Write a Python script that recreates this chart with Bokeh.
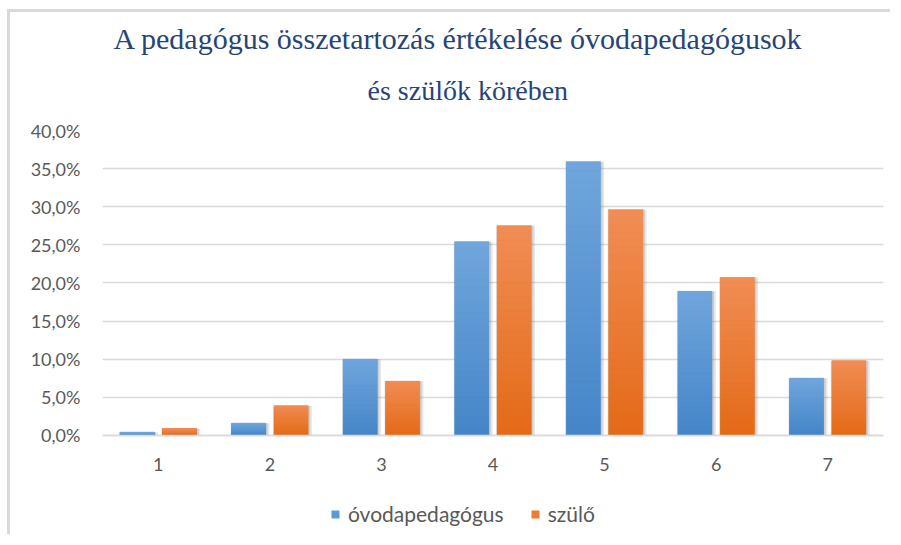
from bokeh.plotting import figure
from bokeh.models import (FactorRange, ColumnDataSource, Legend, LegendItem, Title,
                          FixedTicker, CustomJSTickFormatter, Range1d)
from bokeh.transform import dodge
from bokeh.embed import file_html
from bokeh.resources import INLINE

categories = ["1", "2", "3", "4", "5", "6", "7"]
ovodapedagogus = [0.4, 1.6, 10.0, 25.4, 35.9, 18.9, 7.5]
szulo = [0.9, 3.9, 7.1, 27.5, 29.6, 20.7, 9.8]
series_names = ["óvodapedagógus", "szülő"]
y_ticks = [0, 5, 10, 15, 20, 25, 30, 35, 40]
title_lines = ["A pedagógus összetartozás értékelése  óvodapedagógusok", "és szülők körében"]

BLUE = "#5B9BD5"
ORANGE = "#ED7D31"
BLUE_GRAD = ("#70A6DC", "#4585C8")     # top, bottom
ORANGE_GRAD = ("#F18D55", "#E36A17")
GRID = "#D9D9D9"
TXT = "#595959"
SANS = "Lato"
TITLE_COLOR = "#264478"

OFF = 0.19
BW = 0.305

p = figure(width=883, height=525,
           x_range=FactorRange(*categories, range_padding=0),
           y_range=Range1d(-13.4, 40),
           output_backend="svg", toolbar_location=None,
           min_border_left=92, min_border_right=10,
           min_border_top=118, min_border_bottom=0)
p.styles = {"margin-left": "7px", "margin-top": "9px",
            "border-top": "3px solid #D9D9D9", "border-left": "3px solid #D9D9D9"}
p.outline_line_color = None
p.background_fill_color = "white"
p.border_fill_color = "white"

src = ColumnDataSource(dict(cat=categories, ovoda=ovodapedagogus, szulo=szulo))


def hex2rgb(h):
    h = h.lstrip("#")
    return tuple(int(h[i:i + 2], 16) for i in (0, 2, 4))


def mix(c1, c2, t):
    a, b = hex2rgb(c1), hex2rgb(c2)
    return "#%02x%02x%02x" % tuple(round(a[i] + (b[i] - a[i]) * t) for i in range(3))


def gradient_source(vals, grad, n=30):
    cats, bots, tops, cols = [], [], [], []
    for c, v in zip(categories, vals):
        for k in range(n):
            cats.append(c)
            bots.append(v * k / n)
            tops.append(v * (k + 1) / n)
            cols.append(mix(grad[1], grad[0], (k + 0.5) / n))
    return ColumnDataSource(dict(cat=cats, bottom=bots, top=tops, color=cols))


# soft shadows
for off, col in ((-OFF, "ovoda"), (OFF, "szulo")):
    p.vbar(x=dodge("cat", off + 0.012, range=p.x_range), top=col, width=BW + 0.045,
           source=src, fill_color="#7f7f7f", fill_alpha=0.18, line_color=None)
    p.vbar(x=dodge("cat", off + 0.008, range=p.x_range), top=col, width=BW + 0.022,
           source=src, fill_color="#7f7f7f", fill_alpha=0.25, line_color=None)

r1 = p.vbar(x=dodge("cat", -OFF, range=p.x_range), top="ovoda", width=BW, source=src,
            fill_color=BLUE, line_color=None)
r2 = p.vbar(x=dodge("cat", OFF, range=p.x_range), top="szulo", width=BW, source=src,
            fill_color=ORANGE, line_color=None)

gs1 = gradient_source(ovodapedagogus, BLUE_GRAD)
gs2 = gradient_source(szulo, ORANGE_GRAD)
p.vbar(x=dodge("cat", -OFF, range=p.x_range), bottom="bottom", top="top", width=BW,
       source=gs1, fill_color="color", line_color="color", line_width=0.6)
p.vbar(x=dodge("cat", OFF, range=p.x_range), bottom="bottom", top="top", width=BW,
       source=gs2, fill_color="color", line_color="color", line_width=0.6)

p.xgrid.grid_line_color = None
p.ygrid.grid_line_color = GRID
p.ygrid.grid_line_width = 1.5
p.ygrid.ticker = FixedTicker(ticks=y_ticks)
p.ygrid.level = "underlay"

yax = p.yaxis[0]
yax.ticker = FixedTicker(ticks=y_ticks)
yax.formatter = CustomJSTickFormatter(code="return tick.toFixed(1).replace('.', ',') + '%';")
yax.axis_line_color = None
yax.major_tick_line_color = None
yax.minor_tick_line_color = None
yax.major_label_standoff = 16
yax.major_label_text_color = TXT
yax.major_label_text_font = SANS
yax.major_label_text_font_size = "18px"

xax = p.xaxis[0]
xax.fixed_location = 0
xax.axis_line_color = GRID
xax.axis_line_width = 1.5
xax.major_tick_line_color = None
xax.minor_tick_line_color = None
xax.major_label_standoff = 17
xax.major_label_text_color = TXT
xax.major_label_text_font = SANS
xax.major_label_text_font_size = "18px"

legend = Legend(items=[LegendItem(label=series_names[0], renderers=[r1]),
                       LegendItem(label=series_names[1], renderers=[r2])],
                orientation="horizontal", location=(228, 11),
                border_line_color=None, background_fill_alpha=0,
                label_text_font=SANS, label_text_font_size="21px", label_text_color=TXT,
                glyph_width=10, glyph_height=10, label_standoff=8, spacing=26,
                margin=0, padding=10)
p.add_layout(legend)

p.add_layout(Title(text=title_lines[1], align="left", offset=265, standoff=50,
                   text_font="Liberation Serif", text_font_size="28px",
                   text_font_style="normal", text_color=TITLE_COLOR), "above")
p.add_layout(Title(text=title_lines[0], align="left", offset=11, standoff=-14,
                   text_font="Liberation Serif", text_font_size="30px",
                   text_font_style="normal", text_color=TITLE_COLOR), "above")

open("out.html", "w").write(file_html(p, INLINE))
